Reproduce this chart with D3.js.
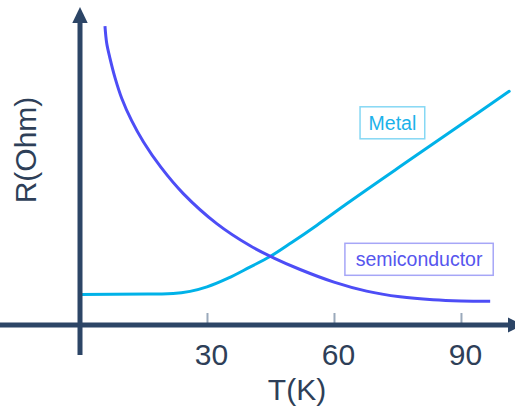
<!DOCTYPE html>
<html>
<head>
<meta charset="utf-8">
<script src="https://cdn.jsdelivr.net/npm/d3@7"></script>
<style>
  html, body { margin: 0; padding: 0; background: #ffffff; }
  svg { display: block; font-family: "Liberation Sans", Arial, sans-serif; }
</style>
</head>
<body>
<svg id="chart" width="515" height="409"></svg>
<script>
// ---- data ----
const metalT = [0, 16, 22, 26, 30, 35, 40, 45, 50, 55.9, 63, 78.7, 94.5, 101.4];
const metalR = [10.2, 10.3, 10.5, 11.2, 12.7, 15.6, 19.2, 22.9, 27.5, 33.2, 40.4, 55.8, 71.2, 77.9];

const semiT = [5.9, 6.3, 7.1, 8.3, 9.85, 12.2, 15, 19.1, 24.4, 32.3, 40.2, 45.7, 52, 60, 67.7, 75.6, 83.4, 90, 96.9];
const semiR = [99.6, 94.0, 88.8, 82.3, 75.6, 68.1, 61.0, 52.6, 43.8, 33.8, 26.4, 22.4, 18.5, 14.3, 11.3, 9.4, 8.4, 8.0, 7.9];

const tickValues = [30, 60, 90];
const tickLabels = ["30", "60", "90"];
const seriesNames = ["Metal", "semiconductor"];
const xTitle = "T(K)";
const yTitle = "R(Ohm)";

// ---- setup ----
const svg = d3.select("#chart");
const x = d3.scaleLinear().domain([0, 100]).range([80, 503.3]);
const y = d3.scaleLinear().domain([0, 100]).range([325, 25]);

const axisColor = "#2c4566";
const textColor = "#2e3f58";
const metalColor = "#00b2e8";
const semiColor = "#4d4df6";

// tick marks (above axis) with labels via d3 axis
const xAxis = d3.axisBottom(x)
  .tickValues(tickValues)
  .tickFormat((d, i) => tickLabels[i])
  .tickSizeInner(-12)
  .tickSizeOuter(0)
  .tickPadding(0);

const gx = svg.append("g").attr("transform", `translate(0,${y(0)})`).call(xAxis);
gx.select(".domain").remove();
gx.selectAll(".tick line").attr("stroke", "#9aa9bb").attr("stroke-width", 2);
gx.selectAll(".tick text")
  .attr("fill", textColor)
  .attr("font-size", 30)
  .attr("font-family", "Liberation Sans, Arial, sans-serif")
  .attr("dy", null)
  .attr("y", 40)
  .attr("dx", 4);

// curves
const metalLine = d3.line().x(d => x(d[0])).y(d => y(d[1])).curve(d3.curveMonotoneX);
const semiLine = d3.line().x(d => x(d[0])).y(d => y(d[1])).curve(d3.curveCatmullRom.alpha(0.5));

svg.append("path")
  .datum(metalT.map((t, i) => [t, metalR[i]]))
  .attr("d", metalLine)
  .attr("fill", "none")
  .attr("stroke", metalColor)
  .attr("stroke-width", 3)
  .attr("stroke-linecap", "round");

svg.append("path")
  .datum(semiT.map((t, i) => [t, semiR[i]]))
  .attr("d", semiLine)
  .attr("fill", "none")
  .attr("stroke", semiColor)
  .attr("stroke-width", 3)
  .attr("stroke-linecap", "butt");

// axes lines with arrows
const x0 = x(0), y0 = y(0);
svg.append("line")
  .attr("x1", 0).attr("x2", 509).attr("y1", y0).attr("y2", y0)
  .attr("stroke", axisColor).attr("stroke-width", 5);
svg.append("path")
  .attr("d", `M508,${y0 - 7.5} L523,${y0} L508,${y0 + 7.5} Z`)
  .attr("fill", axisColor);

svg.append("line")
  .attr("x1", x0).attr("x2", x0).attr("y1", 22).attr("y2", 355)
  .attr("stroke", axisColor).attr("stroke-width", 5);
svg.append("path")
  .attr("d", `M${x0 - 7.7},23 L${x0},7 L${x0 + 7.7},23 Z`)
  .attr("fill", axisColor);

// axis titles
svg.append("text")
  .attr("x", 297).attr("y", 400)
  .attr("text-anchor", "middle")
  .attr("font-size", 30)
  .attr("fill", textColor)
  .text(xTitle);

svg.append("text")
  .attr("transform", "translate(36,150) rotate(-90)")
  .attr("text-anchor", "middle")
  .attr("font-size", 30)
  .attr("fill", textColor)
  .text(yTitle);

// labelled boxes
function boxLabel(text, cx, cy, color, border, padX) {
  const g = svg.append("g");
  const rect = g.append("rect");
  const t = g.append("text")
    .attr("x", cx).attr("y", cy)
    .attr("text-anchor", "middle")
    .attr("dominant-baseline", "central")
    .attr("font-size", 19.5)
    .attr("fill", color)
    .text(text);
  const bb = t.node().getBBox();
  rect.attr("x", cx - bb.width / 2 - padX)
    .attr("y", cy - 16)
    .attr("width", bb.width + 2 * padX)
    .attr("height", 32)
    .attr("fill", "#ffffff")
    .attr("stroke", border)
    .attr("stroke-width", 1.5);
}
boxLabel(seriesNames[0], x(73.8), y(67.4), "#1cb2ea", "#86d8f4", 8.5);
boxLabel(seriesNames[1], x(80.1), y(21.9), "#5656ee", "#a6a6f7", 10.5);
</script>
</body>
</html>
